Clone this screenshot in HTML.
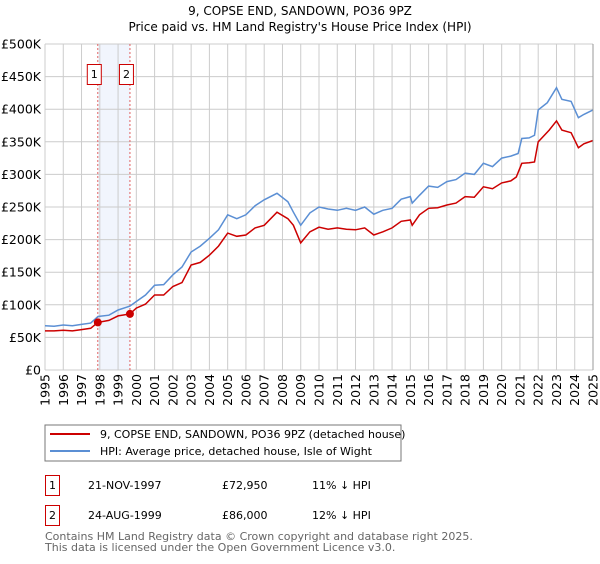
<!DOCTYPE html>
<html><head><meta charset="utf-8"><style>
body{margin:0;background:#fff;font-family:"DejaVu Sans","Liberation Sans",sans-serif;}
svg text{font-family:"DejaVu Sans","Liberation Sans",sans-serif;}
</style></head><body>
<svg id="c" width="600" height="560" xmlns="http://www.w3.org/2000/svg">
<text x="300" y="15" text-anchor="middle" font-size="12">9, COPSE END, SANDOWN, PO36 9PZ</text>
<text x="300" y="31" text-anchor="middle" font-size="12">Price paid vs. HM Land Registry's House Price Index (HPI)</text>
<g id="grid"></g>
<g id="marks"></g>
<g id="axes"></g>
<rect x="45" y="425" width="356" height="36" fill="#fff" stroke="#777"/>
<line x1="50" y1="434" x2="90" y2="434" stroke="#cc0000" stroke-width="2"/>
<text x="100" y="438" font-size="11">9, COPSE END, SANDOWN, PO36 9PZ (detached house)</text>
<line x1="50" y1="451" x2="90" y2="451" stroke="#5b8fd4" stroke-width="2"/>
<text x="100" y="455" font-size="11">HPI: Average price, detached house, Isle of Wight</text>
<g>
<rect x="45.5" y="475.5" width="14" height="20" fill="#fff" stroke="#cc0000"/>
<text x="52.5" y="489" font-size="11" text-anchor="middle">1</text>
<text x="88" y="489" font-size="11">21-NOV-1997</text>
<text x="222" y="489" font-size="11">£72,950</text>
<text x="312" y="489" font-size="11">11% ↓ HPI</text>
</g>
<g>
<rect x="45.5" y="505.5" width="14" height="20" fill="#fff" stroke="#cc0000"/>
<text x="52.5" y="519" font-size="11" text-anchor="middle">2</text>
<text x="88" y="519" font-size="11">24-AUG-1999</text>
<text x="222" y="519" font-size="11">£86,000</text>
<text x="312" y="519" font-size="11">12% ↓ HPI</text>
</g>
<text x="45" y="540" font-size="11" fill="#666">Contains HM Land Registry data © Crown copyright and database right 2025.</text>
<text x="45" y="551" font-size="11" fill="#666">This data is licensed under the Open Government Licence v3.0.</text>
</svg>
<script>
const hpiYears=[1995,1995.5,1996,1996.5,1997,1997.5,1997.9,1998.5,1999,1999.65,2000,2000.5,2001,2001.5,2002,2002.5,2003,2003.5,2004,2004.5,2005,2005.5,2006,2006.5,2007,2007.7,2008.3,2008.6,2009,2009.5,2010,2010.5,2011,2011.5,2012,2012.5,2013,2013.5,2014,2014.5,2015,2015.1,2015.5,2016,2016.5,2017,2017.5,2018,2018.5,2019,2019.5,2020,2020.5,2020.9,2021.1,2021.5,2021.8,2022,2022.5,2023,2023.3,2023.8,2024.2,2024.5,2025];
const hpiValues=[68,67,69,68,70,72,82,84,92,98,105,115,130,131,146,158,181,190,202,215,238,232,238,252,261,271,258,242,222,241,250,247,245,248,245,250,239,245,248,262,266,256,268,282,280,289,292,302,300,317,312,325,328,332,355,356,360,399,410,433,415,412,387,392,399];
const redYears=[1995,1995.5,1996,1996.5,1997,1997.5,1997.89,1998.5,1999,1999.65,2000,2000.5,2001,2001.5,2002,2002.5,2003,2003.5,2004,2004.5,2005,2005.5,2006,2006.5,2007,2007.7,2008.3,2008.6,2009,2009.5,2010,2010.5,2011,2011.5,2012,2012.5,2013,2013.5,2014,2014.5,2015,2015.1,2015.5,2016,2016.5,2017,2017.5,2018,2018.5,2019,2019.5,2020,2020.5,2020.8,2021.1,2021.5,2021.8,2022,2022.6,2023,2023.3,2023.8,2024.2,2024.5,2025];
const redValues=[60,60,61,60,62,64,72.95,76,83,86,95,101,115,115,128,134,161,165,176,190,210,205,207,218,222,242,232,222,195,212,219,216,218,216,215,218,207,212,218,228,230,222,238,248,249,253,256,266,265,281,278,287,290,296,317,318,319,350,368,382,368,364,341,347,352];
const sales=[[1997.89,72.95,"1"],[1999.65,86,"2"]];
const yTicks=[0,50,100,150,200,250,300,350,400,450,500];
const xTicks=[];for(let y=1995;y<=2025;y++)xTicks.push(y);
const NS="http://www.w3.org/2000/svg";
const X=y=>45+(y-1995)*(548/30);
const Y=v=>370-v*(326/500);
function mk(t,a,p){const e=document.createElementNS(NS,t);for(const k in a)e.setAttribute(k,a[k]);p.appendChild(e);return e;}
const grid=document.getElementById('grid'),marks=document.getElementById('marks'),axes=document.getElementById('axes');
// shaded band
const band=mk('rect',{x:X(sales[0][0]),y:Y(500),width:X(sales[1][0])-X(sales[0][0]),height:Y(0)-Y(500),fill:'#e8effb',opacity:'0.6'},grid);


yTicks.forEach(v=>{
 const l=mk('line',{x1:45,x2:593,y1:Y(v),y2:Y(v),stroke:'#ccc'},grid);
 
 
 const t=mk('text',{x:41,y:Y(v)+4.5,'text-anchor':'end','font-size':'12.5'},axes);
 t.textContent=v===0?'£0':'£'+v+'K';
 
 
});
xTicks.forEach(yr=>{
 const l=mk('line',{x1:X(yr),x2:X(yr),y1:Y(500),y2:Y(0),stroke:'#ccc'},grid);
 
 
 const t=mk('text',{x:0,y:0,'text-anchor':'end','font-size':'12.5',transform:`translate(${X(yr)+4.5},374) rotate(-90)`},axes);
 t.textContent=yr;
 
 
});
const ax=mk('line',{x1:593,x2:593,y1:Y(500),y2:Y(0),stroke:'#999'},axes);


sales.forEach(s=>{
 const l=mk('line',{x1:X(s[0]),x2:X(s[0]),y1:Y(500),y2:Y(0),stroke:'#e06060','stroke-dasharray':'2,2'},grid);
 
 
});
function path(xs,vs){return xs.map((x,i)=>(i?'L':'M')+X(x).toFixed(1)+','+Y(vs[i]).toFixed(1)).join('');}
const hp=mk('path',{d:path(hpiYears,hpiValues),fill:'none',stroke:'#5b8fd4','stroke-width':1.5},marks);


const rp=mk('path',{d:path(redYears,redValues),fill:'none',stroke:'#cc0000','stroke-width':1.5},marks);


sales.forEach(s=>{
 const c=mk('circle',{cx:X(s[0]),cy:Y(s[1]),r:4,fill:'#cc0000'},marks);
 
 
 const g=mk('g',{},marks);
 
 
 mk('rect',{x:X(s[0])-10.5,y:64.5,width:14,height:20,fill:'#fff',stroke:'#cc0000'},g);
 const t=mk('text',{x:X(s[0])-3.5,y:78,'text-anchor':'middle','font-size':'11'},g);
 t.textContent=s[2];
});
</script>
</body></html>
